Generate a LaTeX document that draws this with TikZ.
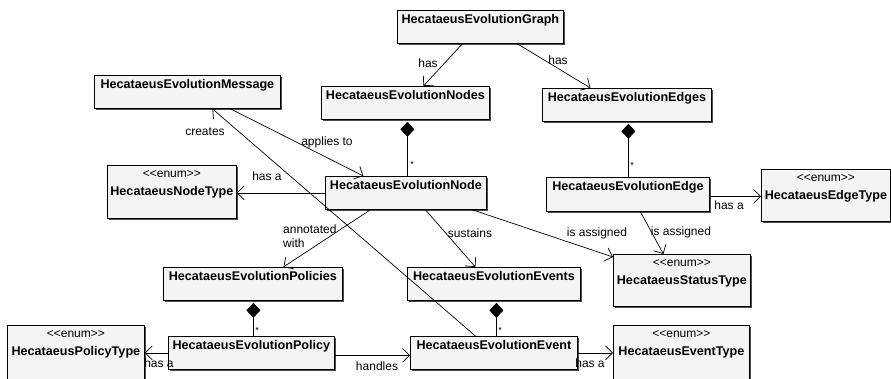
\documentclass[tikz,border=0pt]{standalone}
\usepackage{fontspec}
\setmainfont{Liberation Sans}
\usetikzlibrary{arrows.meta,shadows,calc}
\definecolor{boxfill}{HTML}{F4F4F4}
\newcommand\bfname{\fontsize{12.6}{18}\selectfont\bfseries}
\newcommand\clsbox[3]{\parbox[t][#2pt][t]{#1pt}{\centering\bfname\rule{0pt}{13pt}#3}}
\newcommand\enumbox[3]{\parbox[t][#2pt][t]{#1pt}{\centering\fontsize{12}{18}\selectfont\rule{0pt}{12pt}<{}<enum>{}>\par\bfname #3}}
\tikzset{
  umlbox/.style={draw=black, line width=0.8pt, fill=boxfill, inner sep=0pt, anchor=north west,
    drop shadow={shadow xshift=2pt, shadow yshift=-2pt, fill=black!70, opacity=1}},
  assoc/.style={draw, line width=0.7pt, -{Straight Barb[length=7pt,width=14pt]}},
  comp/.style={draw, line width=0.7pt, {Diamond[length=15pt,width=14pt]}-},
  lbl/.style={font=\fontsize{12}{14}\selectfont, inner sep=0pt},
  mult/.style={font=\fontsize{9}{9}\selectfont, inner sep=0pt}
}
\begin{document}
\begin{tikzpicture}[x=1pt,y=-1pt]
\useasboundingbox (0,0) rectangle (891,378);
\clip (0,0) rectangle (891,378);
% classes
\node[umlbox] (g) at (397,10) {\clsbox{166}{33}{HecataeusEvolutionGraph}};
\node[umlbox] (msg) at (94,75) {\clsbox{186}{33}{HecataeusEvolutionMessage}};
\node[umlbox] (nodes) at (321,86) {\clsbox{168}{33}{HecataeusEvolutionNodes}};
\node[umlbox] (edges) at (542,88) {\clsbox{169}{33}{HecataeusEvolutionEdges}};
\node[umlbox] (ntype) at (107,165) {\enumbox{129}{53}{HecataeusNodeType}};
\node[umlbox] (enode) at (325,176) {\clsbox{161}{33}{HecataeusEvolutionNode}};
\node[umlbox] (eedge) at (546,177) {\clsbox{163}{34}{HecataeusEvolutionEdge}};
\node[umlbox] (etype) at (761,169) {\enumbox{129}{52}{HecataeusEdgeType}};
\node[umlbox] (status) at (613,254) {\enumbox{137}{52}{HecataeusStatusType}};
\node[umlbox] (events) at (407,267) {\clsbox{173}{33}{HecataeusEvolutionEvents}};
\node[umlbox] (policies) at (163,267) {\clsbox{179}{33}{HecataeusEvolutionPolicies}};
\node[umlbox] (policy) at (168,336) {\clsbox{166}{33}{HecataeusEvolutionPolicy}};
\node[umlbox] (ptype) at (7,325) {\enumbox{137}{60}{HecataeusPolicyType}};
\node[umlbox] (event) at (410,336) {\clsbox{167}{33}{HecataeusEvolutionEvent}};
\node[umlbox] (evtype) at (613,325) {\enumbox{136}{60}{HecataeusEventType}};
% compositions
\draw[comp] ([xshift=2pt,yshift=-2pt]nodes.south) -- ([xshift=1.5pt]enode.north);
\draw[comp] ([xshift=1.5pt,yshift=-2pt]edges.south) -- ([xshift=0.5pt]eedge.north);
\draw[comp] ([xshift=0.5pt,yshift=-2pt]policies.south) -- ([xshift=2pt]policy.north);
\draw[comp] ([xshift=2.5pt,yshift=-2pt]events.south) -- ([xshift=2.5pt]event.north);
\node[mult] (m1) at (412,164) {*};
\node[mult] (m2) at (632,165) {*};
\node[mult] (m3) at (257,330) {*};
\node[mult] (m4) at (500,330) {*};
% associations
\draw[assoc] ([xshift=-18pt]g.south) -- ([xshift=18pt]nodes.north);
\draw[assoc] ([xshift=37pt]g.south) -- ([xshift=-36.5pt]edges.north);
\draw[assoc] ([xshift=-18.5pt]event.north) -- ([xshift=25pt]msg.south);
\draw[assoc] ([xshift=43pt]msg.south) -- ([xshift=-42.5pt]enode.north);
\draw[assoc] (enode.west) -- (enode.west -| ntype.east);
\draw[assoc] ([xshift=-35.5pt]enode.south) -- ([xshift=30.5pt]policies.north);
\draw[assoc] ([xshift=19.5pt]enode.south) -- ([xshift=-18.5pt]events.north);
\draw[assoc] ([xshift=66.5pt]enode.south) -- ([yshift=-3pt]status.north west);
\draw[assoc] ([xshift=12.5pt]eedge.south) -- ([xshift=-18.5pt]status.north);
\coordinate (c1) at ([yshift=-2pt]eedge.east);
\draw[assoc] (c1) -- (c1 -| etype.west);
\draw[assoc] (policy.west) -- (policy.west -| ptype.east);
\coordinate (c2) at ([yshift=-2.5pt]policy.east);
\draw[assoc] (c2) -- (c2 -| event.west);
\draw[assoc] (event.east) -- (event.east -| evtype.west);
% labels
\node[lbl] (l1) at (428,63) {has};
\node[lbl] (l2) at (558,60) {has};
\node[lbl] (l3) at (205,132) {creates};
\node[lbl] (l4) at (327,142) {applies to};
\node[lbl] (l5) at (267,176) {has a};
\node[lbl, anchor=west, align=left] (l6) at (283,236) {annotated\\with};
\node[lbl] (l7) at (470,233) {sustains};
\node[lbl] (l8) at (597,233) {is assigned};
\node[lbl] (l9) at (681,232) {is assigned};
\node[lbl] (l10) at (729,205) {has a};
\node[lbl] (l11) at (159,363) {has a};
\node[lbl] (l12) at (377,366) {handles};
\node[lbl] (l13) at (590,363) {has a};
\end{tikzpicture}
\end{document}
